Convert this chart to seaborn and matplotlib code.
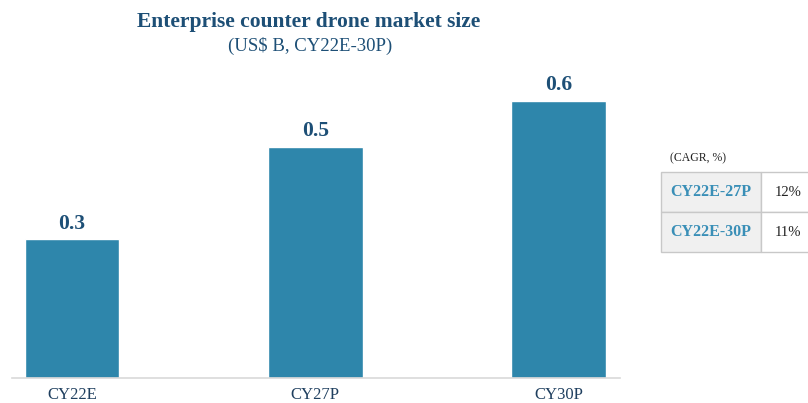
import matplotlib
matplotlib.use("Agg")
import matplotlib.pyplot as plt
import seaborn as sns
import pandas as pd
from matplotlib.patches import Rectangle

# data
years = ["CY22E", "CY27P", "CY30P"]
market_size = [0.3, 0.5, 0.6]
cagr_periods = ["CY22E-27P", "CY22E-30P"]
cagr_values = ["12%", "11%"]

bar_color = "#2e86ab"
navy = "#1d4f76"

sns.set_style("white")
plt.rcParams["font.family"] = ["Liberation Serif", "DejaVu Serif"]

W, H = 808, 403
fig = plt.figure(figsize=(W / 100, H / 100), dpi=100)

# main bar axis, placed in pixel coords
left, right, top, base = 12, 620, 60, 378
ax = fig.add_axes([left / W, 1 - base / H, (right - left) / W, (base - top) / H])

df = pd.DataFrame({"year": years, "size": market_size})
sns.barplot(data=df, x="year", y="size", color=bar_color, saturation=1,
            width=0.39, ax=ax)

ax.set_xlim(-0.247, 2.253)
ax.set_ylim(0, (base - top) / 462.5)
ax.set_yticks([])
ax.set_xlabel("")
ax.set_ylabel("")
for s in ["top", "right", "left"]:
    ax.spines[s].set_visible(False)
ax.spines["bottom"].set_color("#d9d9d9")
ax.spines["bottom"].set_linewidth(1.2)
ax.tick_params(axis="x", length=0, pad=6.5, labelsize=12, labelcolor="#1f3f5f")

for i, v in enumerate(market_size):
    ax.annotate(f"{v:.1f}", (i, v), xytext=(0, 4), textcoords="offset points",
                ha="center", va="bottom", fontsize=15.5, fontweight="bold",
                color=navy)

# titles
fig.text(309 / W, 1 - 22 / H, "Enterprise counter drone market size",
         ha="center", va="center", fontsize=15.5, fontweight="bold", color=navy)
fig.text(310 / W, 1 - 46 / H, "(US$ B, CY22E-30P)",
         ha="center", va="center", fontsize=13.5, color=navy)

# CAGR table
fig.text(670 / W, 1 - 158 / H, "(CAGR, %)", ha="left", va="center",
         fontsize=8.5, color="#222222")
tx0, tx1, tx2 = 661, 761, 812
row_tops = [172, 212]
row_h = 40
for (label, val), ry in zip(zip(cagr_periods, cagr_values), row_tops):
    y0 = 1 - (ry + row_h) / H
    fig.patches.append(Rectangle((tx0 / W, y0), (tx1 - tx0) / W, row_h / H,
                                 transform=fig.transFigure, facecolor="#f0f0f0",
                                 edgecolor="#c8c8c8", linewidth=1))
    fig.patches.append(Rectangle((tx1 / W, y0), (tx2 - tx1) / W, row_h / H,
                                 transform=fig.transFigure, facecolor="white",
                                 edgecolor="#c8c8c8", linewidth=1))
    yc = 1 - (ry + row_h / 2) / H
    fig.text((tx0 + tx1) / 2 / W, yc, label, ha="center", va="center",
             fontsize=11.5, fontweight="bold", color="#3a8fb7")
    fig.text(788 / W, yc, val, ha="center", va="center", fontsize=10.5,
             color="#222222")

fig.savefig("out.png", dpi=100)
